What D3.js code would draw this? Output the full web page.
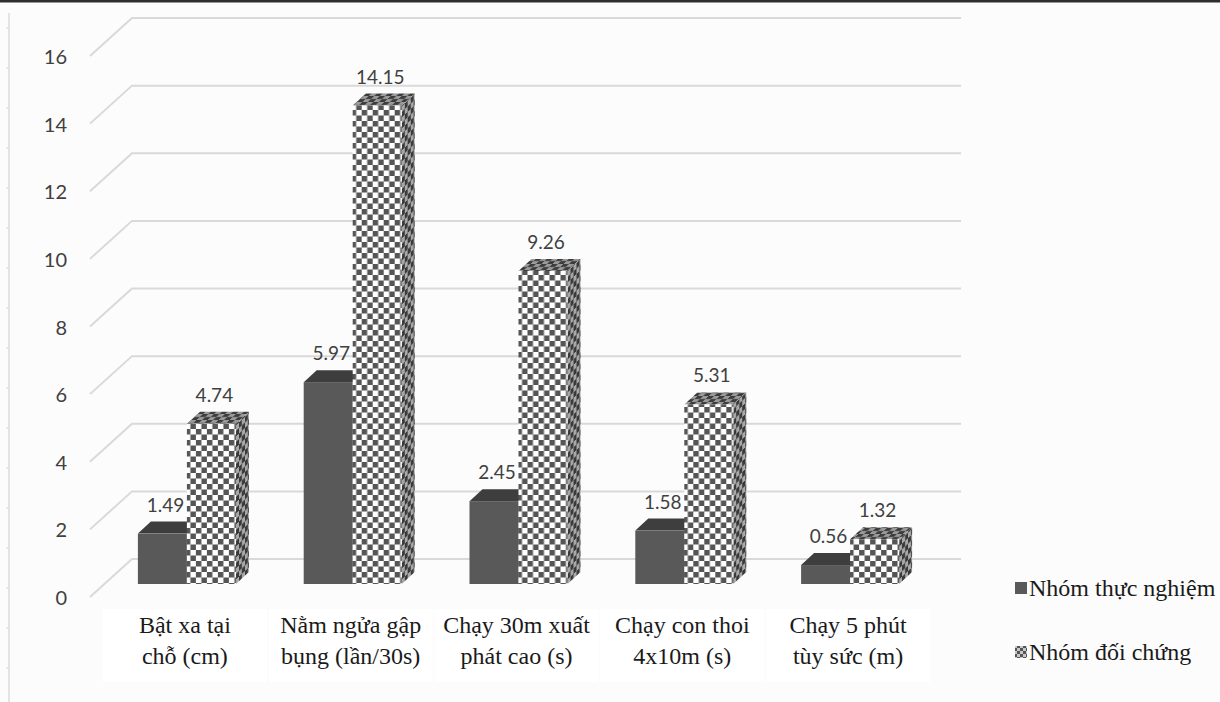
<!DOCTYPE html>
<html>
<head>
<meta charset="utf-8">
<script src="https://cdn.jsdelivr.net/npm/d3@7/dist/d3.min.js"></script>
<style>
  html, body { margin: 0; padding: 0; background: #fcfcfc; }
  svg { display: block; }
</style>
</head>
<body>
<script>
// Category names (two-line labels), series values and axis ticks
const categories = [
  "Bật xa tại\nchỗ (cm)",
  "Nằm ngửa gập\nbụng (lần/30s)",
  "Chạy 30m xuất\nphát cao (s)",
  "Chạy con thoi\n4x10m (s)",
  "Chạy 5 phút\ntùy sức (m)"
];
const seriesNames = ["Nhóm thực nghiệm", "Nhóm đối chứng"];
const experimental = [1.49, 5.97, 2.45, 1.58, 0.56];
const control = [4.74, 14.15, 9.26, 5.31, 1.32];
const yTicks = [0, 2, 4, 6, 8, 10, 12, 14, 16];

const SERIF = "'Liberation Serif', 'Times New Roman', Times, 'Noto Serif', 'DejaVu Serif', serif";
const SANS = "Lato, 'Open Sans', sans-serif";

const W = 1220, H = 702;
const svg = d3.select("body").append("svg").attr("width", W).attr("height", H);

// 3D offsets: back wall and column depth
const wallDX = 42, wallDY = -38;
const depthDX = 13, depthDY = -12;

const yAxis = d3.scaleLinear().domain([0, 16]).range([597, 56]);   // front edge of the grid
const yBar = d3.scaleLinear().domain([0, 16]).range([584, 43]);    // column base plane
const x0 = d3.scaleBand().domain(categories).range([102, 931]);
const x1 = d3.scaleBand().domain(seriesNames).range([-47, 51]);

const defs = svg.append("defs");
function checker(id, w, h, bg, fg, transform) {
  const p = defs.append("pattern").attr("id", id)
    .attr("patternUnits", "userSpaceOnUse").attr("width", w).attr("height", h);
  if (transform) p.attr("patternTransform", transform);
  p.append("rect").attr("width", w).attr("height", h).attr("fill", bg);
  p.append("rect").attr("width", w / 2).attr("height", h / 2).attr("fill", fg);
  p.append("rect").attr("x", w / 2).attr("y", h / 2).attr("width", w / 2).attr("height", h / 2).attr("fill", fg);
}
checker("chkFront", 11, 11, "#ffffff", "#555555");
checker("chkSide", 6, 11, "#a8a8a8", "#3a3a3a", "skewY(-43)");
checker("chkTop", 11, 6, "#9a9a9a", "#3c3c3c", "skewX(-47)");
checker("chkLegend", 6, 6, "#c8c8c8", "#555555");

// Frame: dark top rule and faint left rule with tick marks
svg.append("rect").attr("x", 0).attr("y", 0).attr("width", W).attr("height", 2.5).attr("fill", "#2e2e2e");
svg.append("line").attr("x1", 9).attr("x2", 9).attr("y1", 13).attr("y2", H)
  .attr("stroke", "#dcdcdc").attr("stroke-width", 1.5);
svg.append("g").selectAll("line").data(d3.range(28, H, 40)).join("line")
  .attr("x1", 6).attr("x2", 9).attr("y1", d => d).attr("y2", d => d)
  .attr("stroke", "#dcdcdc").attr("stroke-width", 1.2);

// White boxes behind category labels
svg.append("g").selectAll("rect").data(categories).join("rect")
  .attr("x", d => x0(d) + 1).attr("y", 609)
  .attr("width", x0.bandwidth() - 2).attr("height", 73)
  .attr("fill", "#ffffff");

// Gridlines: diagonal on the side wall, horizontal on the back wall
const grid = svg.append("g").attr("fill", "none").attr("stroke", "#d9d9d9").attr("stroke-width", 2);
grid.selectAll("path").data(yTicks).join("path")
  .attr("d", v => `M90,${yAxis(v)}L${90 + wallDX},${yAxis(v) + wallDY}L961,${yAxis(v) + wallDY}`);

// Y axis labels
svg.append("g").selectAll("text").data(yTicks).join("text")
  .style("font-family", SANS)
  .attr("x", 67).attr("y", v => yAxis(v))
  .attr("text-anchor", "end").attr("dominant-baseline", "central")
  .attr("font-size", 20)
  .attr("fill", "#404040").text(d => d);

// Columns
const rows = categories.map((c, i) => ({ cat: c, vals: [
  { s: seriesNames[0], v: experimental[i] },
  { s: seriesNames[1], v: control[i] }
]}));
const styles = {
  [seriesNames[0]]: { front: "#595959", top: "#3e3e3e", side: "#484848" },
  [seriesNames[1]]: { front: "url(#chkFront)", top: "url(#chkTop)", side: "url(#chkSide)" }
};

const cols = svg.append("g").selectAll("g").data(rows).join("g")
  .attr("transform", d => `translate(${x0(d.cat) + x0.bandwidth() / 2},0)`);

cols.each(function(row) {
  const g = d3.select(this);
  row.vals.forEach(d => {
    const xa = x1(d.s), xb = xa + x1.bandwidth();
    const yb = yBar(0), yt = yBar(d.v);
    const st = styles[d.s];
    // side face
    g.append("path").attr("fill", st.side)
      .attr("d", `M${xb},${yb}L${xb + depthDX},${yb + depthDY}L${xb + depthDX},${yt + depthDY}L${xb},${yt}Z`);
    // top face
    g.append("path").attr("fill", st.top)
      .attr("d", `M${xa},${yt}L${xa + depthDX},${yt + depthDY}L${xb + depthDX},${yt + depthDY}L${xb},${yt}Z`);
    // front face
    g.append("rect").attr("x", xa).attr("y", yt).attr("width", xb - xa).attr("height", yb - yt)
      .attr("fill", st.front);
  });
  // value labels
  row.vals.forEach(d => {
    g.append("text")
      .style("font-family", SANS)
      .attr("x", x1(d.s) + x1.bandwidth() / 2 + 3)
      .attr("y", yBar(d.v) - 22)
      .attr("text-anchor", "middle")
      .attr("font-size", 19)
      .attr("fill", "#404040").text(d3.format(".2f")(d.v));
  });
});

// Category labels
svg.append("g").selectAll("text").data(categories).join("text")
  .style("font-family", SERIF)
  .attr("x", d => x0(d) + x0.bandwidth() / 2)
  .attr("y", 633)
  .attr("text-anchor", "middle")
  .attr("font-size", 24)
  .attr("fill", "#1a1a1a")
  .each(function(d) {
    d3.select(this).selectAll("tspan").data(d.split("\n")).join("tspan")
      .attr("x", x0(d) + x0.bandwidth() / 2)
      .attr("dy", (t, i) => i === 0 ? 0 : 31)
      .text(t => t);
  });

// Legend
const legend = svg.append("g");
const legendY = [588, 652];
legend.selectAll("rect").data(seriesNames).join("rect")
  .attr("x", 1015).attr("y", (d, i) => legendY[i] - 6).attr("width", 12).attr("height", 12)
  .attr("fill", (d, i) => i === 0 ? "#595959" : "url(#chkLegend)");
legend.selectAll("text").data(seriesNames).join("text")
  .style("font-family", SERIF)
  .attr("x", 1029).attr("y", (d, i) => legendY[i] + 8)
  .attr("font-size", 24)
  .attr("fill", "#1a1a1a").text(d => d);
</script>
</body>
</html>
